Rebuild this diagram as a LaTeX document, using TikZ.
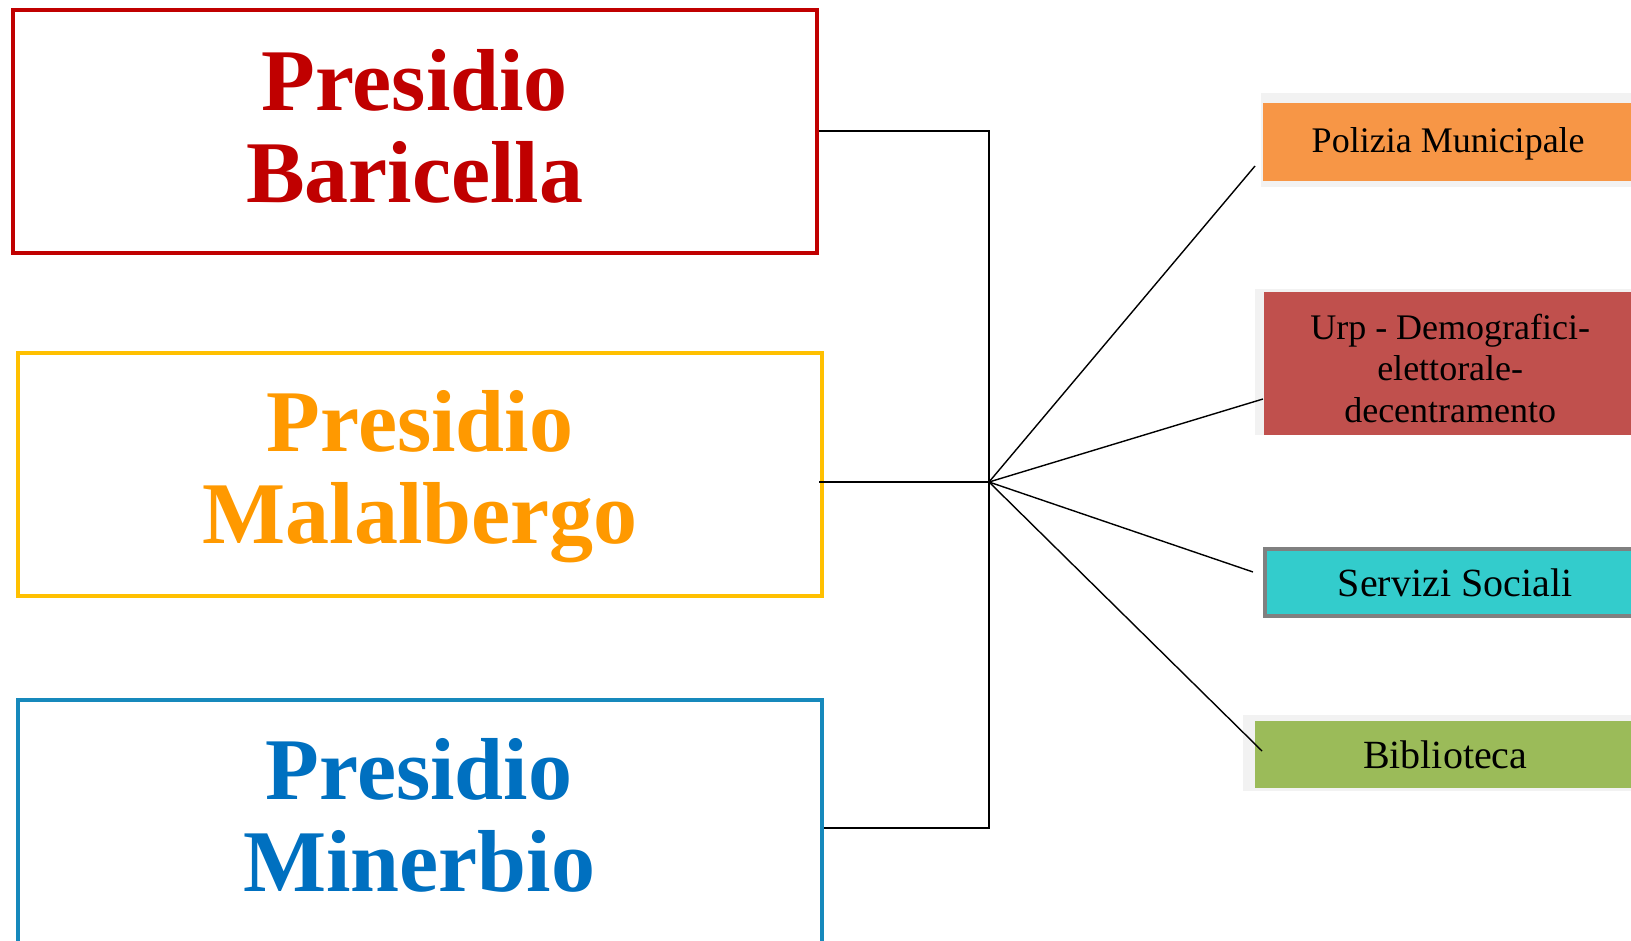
\documentclass[tikz,border=0pt]{standalone}
\usepackage{fontspec}
\setmainfont{Liberation Serif}
\usetikzlibrary{positioning}
\definecolor{rossoP}{HTML}{C00000}
\definecolor{gialloP}{HTML}{FFC000}
\definecolor{arancioP}{HTML}{FF9900}
\definecolor{bluBordo}{HTML}{1689BC}
\definecolor{bluP}{HTML}{0070C0}
\definecolor{arancioU}{HTML}{F79646}
\definecolor{rossoU}{HTML}{C0504D}
\definecolor{cianoU}{HTML}{33CCCC}
\definecolor{verdeU}{HTML}{9BBB59}
\definecolor{grigioS}{HTML}{808080}
\definecolor{fondo}{HTML}{F2F2F2}

\begin{document}
\begin{tikzpicture}[x=1pt, y=-1pt,
    presidio/.style={draw, line width=4pt, minimum width=804, inner sep=0pt},
    titolo/.style={anchor=base, align=center, font=\bfseries\fontsize{88}{92}\selectfont},
    ufficio/.style={anchor=west, align=center, inner sep=0pt, font=\fontsize{36}{41.5}\selectfont},
    link/.style={draw=black, line width=2pt},
    ramo/.style={draw=black, line width=1.4pt}]
    \useasboundingbox (0,0) rectangle (1631,941);

    % presidi
    \node[presidio, draw=rossoP, minimum height=243] (bar) at (414.7,131.5) {};
    \node[presidio, draw=gialloP, minimum height=242] (mal) at (420,474.5) {};
    \node[presidio, draw=bluBordo, minimum height=256] (min) at (420,828) {};
    \node[titolo, text=rossoP] (tbar) at (414.7,203) {Presidio\\Baricella};
    \node[titolo, text=arancioP] (tmal) at (420,543) {Presidio\\Malalbergo};
    \node[titolo, text=bluP] (tmin) at (419,891) {Presidio\\Minerbio};

    % uffici
    \fill[fondo] (1261,93) rectangle (1640,187);
    \fill[fondo] (1255,289) rectangle (1640,435);
    \fill[fondo] (1243,715) rectangle (1640,791);
    \node[ufficio, fill=arancioU, minimum width=370, minimum height=78] (pol) at (1263,142) {Polizia Municipale\rule{0pt}{29pt}};
    \node[ufficio, fill=rossoU, minimum width=372, minimum height=143] (urp) at (1264,363.5) {\rule{0pt}{35pt}Urp - Demografici-\\elettorale-\\decentramento};
    \node[ufficio, fill=cianoU, draw=grigioS, line width=4pt, minimum width=380, minimum height=67, font=\fontsize{40}{44}\selectfont] (ser) at (1263,582.5) {Servizi Sociali};
    \node[ufficio, fill=verdeU, minimum width=380, minimum height=67, font=\fontsize{40}{44}\selectfont] (bib) at (1255,754.5) {Biblioteca};

    % collegamenti
    \coordinate (hub) at (989,482);
    \draw[link] (bar.east) -| (hub);
    \draw[link] (min.east) -| (hub);
    \draw[link] (hub) -- (hub -| bar.east);
    \draw[ramo] (hub) -- ([xshift=-8pt,yshift=-24pt]pol.west);
    \draw[ramo] (hub) -- ([xshift=-1pt,yshift=-35.5pt]urp.west);
    \draw[ramo] (hub) -- ([xshift=-10pt,yshift=10.5pt]ser.west);
    \draw[ramo] (hub) -- ([xshift=7pt,yshift=3.5pt]bib.west);
\end{tikzpicture}
\end{document}
